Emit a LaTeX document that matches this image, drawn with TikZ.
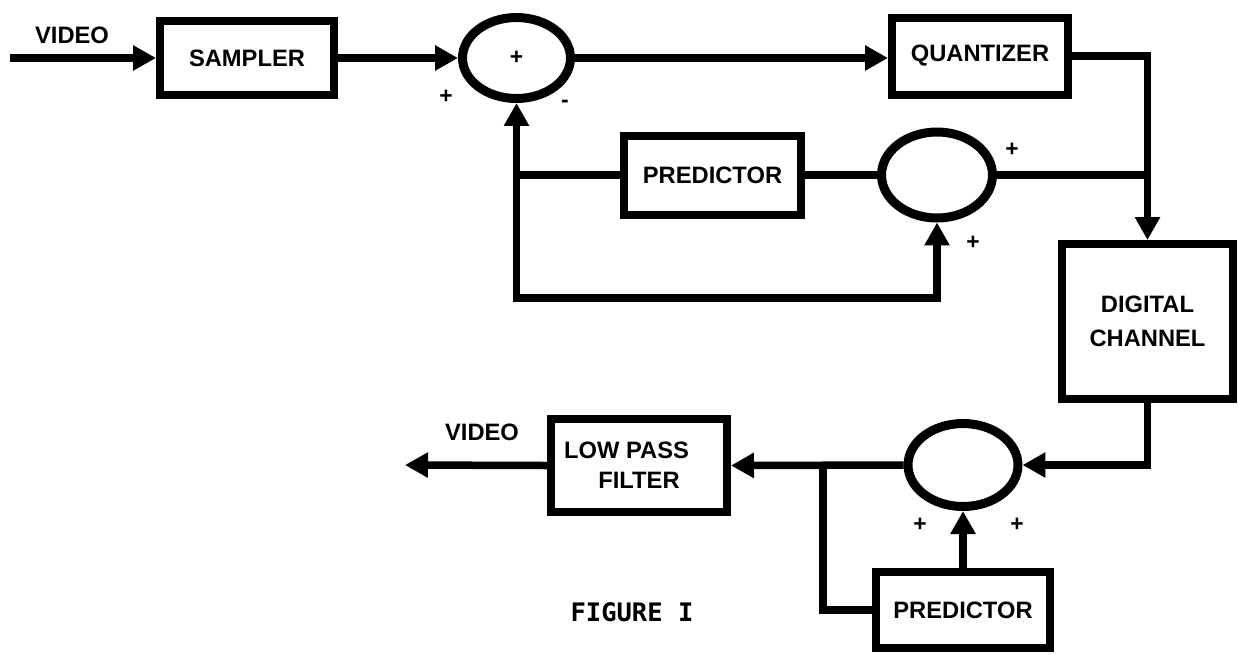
\documentclass[tikz,border=0pt]{standalone}
\usepackage{fontspec}
\setmainfont{Liberation Sans}
\newfontfamily\figfont{DejaVu Sans Mono}
\usetikzlibrary{arrows.meta, shapes.geometric, positioning}
\tikzset{
  blk/.style={draw, rectangle, line width=0.16cm, align=center, inner sep=0pt,
    font=\bfseries\fontsize{13.5}{17}\selectfont},
  summer/.style={draw, ellipse, line width=0.18cm, inner sep=0pt,
    font=\bfseries\fontsize{13}{15}\selectfont},
  wire/.style={line width=0.15cm, line join=miter},
  flow/.style={wire, -{Triangle[length=0.46cm,width=0.48cm]}},
  sgn/.style={font=\bfseries\fontsize{13}{15}\selectfont, inner sep=0pt},
  tag/.style={font=\bfseries\fontsize{13.5}{15}\selectfont, inner sep=0pt}
}

\begin{document}
\begin{tikzpicture}[x=0.02cm, y=-0.02cm]
  \useasboundingbox (0,0) rectangle (1238,654);

  % encoder
  \node[blk, minimum width=3.48cm, minimum height=1.48cm] (sampler) at (247,58) {SAMPLER};
  \node[summer, minimum width=2.16cm, minimum height=1.62cm] (sum1) at (516.5,58) {+};
  \node[blk, minimum width=3.52cm, minimum height=1.54cm] (quant) at (980,56) {QUANTIZER};
  \node[blk, minimum width=3.54cm, minimum height=1.58cm] (pred1) at (712.5,175) {PREDICTOR};
  \node[summer, minimum width=2.22cm, minimum height=1.72cm] (sum2) at (937,175) {};

  % channel
  \node[blk, minimum width=3.42cm, minimum height=3.1cm] (chan) at (1147.5,321.5) {DIGITAL\\[2pt]CHANNEL};

  % decoder
  \node[summer, minimum width=2.2cm, minimum height=1.66cm] (sum3) at (963,465) {};
  \node[blk, minimum width=3.52cm, minimum height=1.86cm] (lpf) at (639,465.5) {LOW PASS\hspace*{0.5cm}\\FILTER};
  \node[blk, minimum width=3.5cm, minimum height=1.52cm] (pred2) at (963,610) {PREDICTOR};

  \coordinate (vin) at (10,58);
  \coordinate (vout) at (405,465);
  \coordinate (fb) at (sum1.south |- pred1.west);
  \coordinate (fbl) at (516.5,298);
  \coordinate (tap) at (chan.north |- sum2.east);
  \coordinate (split) at (823,465);

  \draw[flow] (vin) -- (sampler);
  \draw[flow] (sampler) -- (sum1);
  \draw[flow] (sum1.east) -- (sum1.east -| quant.west);
  \draw[flow] (quant.east) -| (chan.north);
  \draw[wire] (sum2.east) -- (tap);
  \draw[wire] (pred1.east) -- (sum2.west);
  \draw[flow] (fb) -- (sum1.south);
  \draw[flow] (pred1.west) -- (fb) -- (fbl) -| (sum2.south);

  \draw[flow] (chan.south) |- (sum3.east);
  \draw[flow] (sum3.west) -- (lpf.east);
  \draw[wire] (split) |- (pred2.west);
  \draw[flow] (pred2.north) -- (sum3.south);
  \draw[flow] (lpf.west) -- (vout);

  % labels
  \node[tag] (vidin) at (72,35) {VIDEO};
  \node[tag] (vidout) at (482,432) {VIDEO};
  \node[sgn] (s1a) at (446,97) {+};
  \node[sgn] (s1b) at (565,104) {-};
  \node[sgn] (s2a) at (1012,150) {+};
  \node[sgn] (s2b) at (973,243) {+};
  \node[sgn] (s3a) at (920,525) {+};
  \node[sgn] (s3b) at (1017,525) {+};
  \node[font=\figfont\bfseries\fontsize{14.5}{16}\selectfont] (cap) at (632,612) {FIGURE I};
\end{tikzpicture}
\end{document}
